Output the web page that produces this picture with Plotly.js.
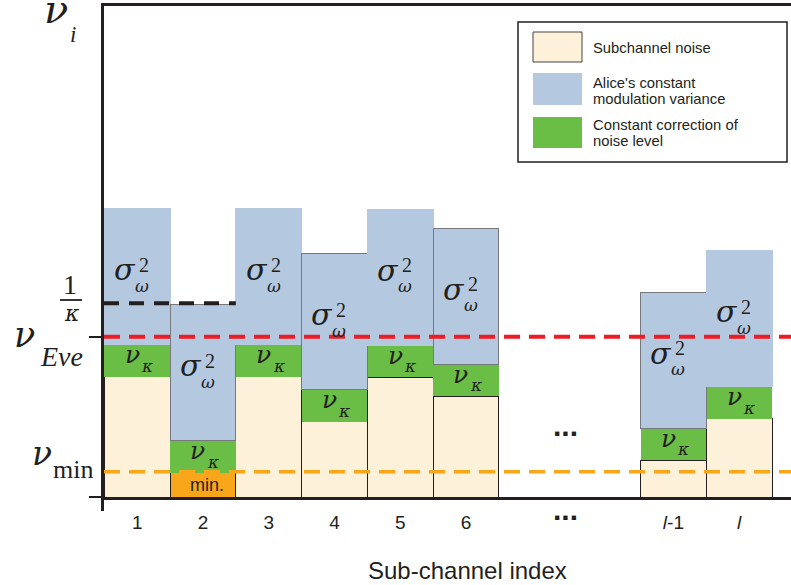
<!DOCTYPE html>
<html><head><meta charset="utf-8">
<script src="https://cdn.plot.ly/plotly-3.0.1.min.js"></script>
<style>html,body{margin:0;padding:0;background:#fff}#chart{width:791px;height:585px}</style>
</head><body><div id="chart"></div>
<script>
// ---------------- data ----------------
const subChannels = [1, 2, 3, 4, 5, 6, 9.155, 10.155];
const subChannelLabels = ['1', '2', '3', '4', '5', '6', '<i>l</i>-1', '<i>l</i>'];
const ellipsisPos = 7.52;
const ellipsisLabel = '...';
const subchannelNoise = [12.03, 2.43, 12.03, 7.53, 11.97, 10.10, 3.70, 7.83];
const noiseCorrection = [3.2, 3.2, 3.2, 3.2, 3.2, 3.2, 3.2, 3.2];
const modulationVariance = [13.6, 13.6, 13.6, 13.6, 13.6, 13.6, 13.6, 13.6];
const minIndex = 1;
const invKappa = 19.37;
const nuEve = 16.03;
const nuMin = 2.53;
const seriesNames = ['Subchannel noise', "Alice's constant modulation variance", 'Constant correction of noise level'];
const xTitle = 'Sub-channel index';

// ---------------- style ----------------
const ink = '#231F20';
const serif = 'Liberation Serif, Times New Roman, serif';
const greek = 'DejaVu Serif, Liberation Serif, serif';
const sans = 'Liberation Sans, Arial, Helvetica, sans-serif';
const cNoise = '#FDF1DA', cMin = '#F9A61B', cBlue = '#B4C8E0', cGreen = '#6ABD45';
const cRed = '#ED1C24', cOrange = '#FAA61A';
const M = {l: 104, r: 0, t: 6, b: 88};
const W = 791 - M.l - M.r, H = 585 - M.t - M.b;
const PX = p => (p - M.l) / W;
const PY = p => (M.t + H - p) / H;

const noiseColors = subchannelNoise.map((v, i) => i === minIndex ? cMin : cNoise);
const darkEdged = [1, 3, 5, 6];
const blueLine = subChannels.map((v, i) => darkEdged.includes(i) ? '#77787b' : cBlue);

const traces = [
  {type: 'bar', name: seriesNames[0], x: subChannels, y: subchannelNoise, width: 1,
   marker: {color: noiseColors, line: {color: ink, width: 1}}, hoverinfo: 'skip'},
  {type: 'bar', name: seriesNames[2], x: subChannels, y: noiseCorrection, width: 1,
   marker: {color: cGreen, line: {color: cGreen, width: 0}}, hoverinfo: 'skip'},
  {type: 'bar', name: seriesNames[1], x: subChannels, y: modulationVariance, width: 1,
   marker: {color: cBlue, line: {color: blueLine, width: 1}}, hoverinfo: 'skip'}
];

const ann = [];
function A(o) { ann.push(Object.assign({showarrow: false, xanchor: 'center', yanchor: 'middle'}, o)); }

// labels inside bars
subChannels.forEach((x, i) => {
  const yBlue = subchannelNoise[i] + noiseCorrection[i] + modulationVariance[i] / 2;
  const yGreen = subchannelNoise[i] + noiseCorrection[i] / 2;
  A({x: x, y: yBlue, xref: 'x', yref: 'y', text: '<i>σ</i>', font: {family: greek, size: 30, color: ink}, xshift: -12, yshift: 7});
  A({x: x, y: yBlue, xref: 'x', yref: 'y', text: '2', font: {family: serif, size: 20, color: ink}, xshift: 7, yshift: 12});
  A({x: x, y: yBlue, xref: 'x', yref: 'y', text: '<i>ω</i>', font: {family: greek, size: 17, color: ink}, xshift: 5, yshift: -9});
  A({x: x, y: yGreen, xref: 'x', yref: 'y', text: '<i>ν</i>', font: {family: greek, size: 25, color: ink}, xshift: -5, yshift: 6});
  A({x: x, y: yGreen, xref: 'x', yref: 'y', text: '<i>κ</i>', font: {family: greek, size: 17, color: ink}, xshift: 10, yshift: -5});
});
A({x: subChannels[minIndex], y: subchannelNoise[minIndex] / 2, xref: 'x', yref: 'y', text: 'min.', font: {family: sans, size: 18, color: ink}, xshift: 4});
A({x: ellipsisPos, y: PY(425), xref: 'x', yref: 'paper', text: '<b>...</b>', font: {family: sans, size: 30, color: ink}});
A({x: ellipsisPos, y: PY(509), xref: 'x', yref: 'paper', text: '<b>' + ellipsisLabel + '</b>', font: {family: sans, size: 30, color: ink}});

// x-axis title (placed as in the reference, slightly right of centre)
A({x: PX(467), y: PY(570), xref: 'paper', yref: 'paper', text: xTitle, font: {family: sans, size: 24, color: ink}});

// left-side level labels
A({x: PX(55.5), y: PY(8.5), xref: 'paper', yref: 'paper', text: '<i>ν</i>', font: {family: greek, size: 40, color: ink}});
A({x: PX(73), y: PY(34), xref: 'paper', yref: 'paper', text: '<i>i</i>', font: {family: serif, size: 23, color: ink}});
A({x: PX(69.5), y: PY(284), xref: 'paper', yref: 'paper', text: '1', font: {family: serif, size: 28, color: ink}});
A({x: PX(71.5), y: PY(313), xref: 'paper', yref: 'paper', text: '<i>κ</i>', font: {family: greek, size: 22, color: ink}});
A({x: PX(24), y: PY(335), xref: 'paper', yref: 'paper', text: '<i>ν</i>', font: {family: greek, size: 35, color: ink}});
A({x: PX(61.5), y: PY(356), xref: 'paper', yref: 'paper', text: '<i>Eve</i>', font: {family: serif, size: 28, color: ink}});
A({x: PX(42), y: PY(453), xref: 'paper', yref: 'paper', text: '<i>ν</i>', font: {family: greek, size: 33, color: ink}});
A({x: PX(73), y: PY(469.5), xref: 'paper', yref: 'paper', text: 'min', font: {family: serif, size: 26, color: ink}});

// custom legend text
const legendLines = [
  ['Subchannel noise', 48],
  ["Alice's constant", 83],
  ['modulation variance', 99],
  ['Constant correction of', 125],
  ['noise level', 141]
];
legendLines.forEach(([t, yy]) => A({x: PX(591), y: PY(yy), xref: 'paper', yref: 'paper', xanchor: 'left', text: t, font: {family: sans, size: 14.8, color: ink}}));

const shapes = [
  {type: 'line', xref: 'paper', yref: 'y', x0: 0, x1: 1, y0: nuEve, y1: nuEve, line: {color: cRed, width: 4, dash: '16px,9px'}},
  {type: 'line', xref: 'paper', yref: 'y', x0: 0, x1: 1, y0: nuMin, y1: nuMin, line: {color: cOrange, width: 3.5, dash: '16px,9px'}},
  {type: 'line', xref: 'x', yref: 'y', x0: 0.495, x1: subChannels[1] + 0.5, y0: invKappa, y1: invKappa, line: {color: ink, width: 4, dash: '15px,10px'}},
  {type: 'line', xref: 'paper', yref: 'paper', x0: PX(60), x1: PX(82), y0: PY(300), y1: PY(300), line: {color: ink, width: 1.8}},
  {type: 'line', xref: 'paper', yref: 'paper', x0: PX(102.5), x1: PX(102.5), y0: PY(497), y1: PY(511), line: {color: ink, width: 3}},
  {type: 'rect', xref: 'paper', yref: 'paper', x0: PX(518), x1: PX(787), y0: PY(162), y1: PY(22), line: {color: ink, width: 1.5}, fillcolor: 'rgba(0,0,0,0)'},
  {type: 'rect', xref: 'paper', yref: 'paper', x0: PX(533), x1: PX(582), y0: PY(62), y1: PY(32), line: {color: '#444', width: 1}, fillcolor: cNoise},
  {type: 'rect', xref: 'paper', yref: 'paper', x0: PX(533), x1: PX(582), y0: PY(105), y1: PY(73), line: {width: 0}, fillcolor: cBlue},
  {type: 'rect', xref: 'paper', yref: 'paper', x0: PX(533), x1: PX(582), y0: PY(148), y1: PY(117), line: {width: 0}, fillcolor: cGreen}
];

const layout = {
  width: 791, height: 585, margin: M, paper_bgcolor: '#fff', plot_bgcolor: '#fff',
  barmode: 'stack', bargap: 0, showlegend: false,
  xaxis: {
    range: [0.495, 0.495 + W / 65.75], showgrid: false, zeroline: false,
    showline: true, linewidth: 3, linecolor: ink, mirror: true,
    tickmode: 'array', tickvals: subChannels, ticktext: subChannelLabels,
    ticks: 'outside', ticklen: 6, tickcolor: 'rgba(0,0,0,0)',
    tickfont: {family: sans, size: 19, color: ink}
  },
  yaxis: {
    range: [0, H / 10], showgrid: false, zeroline: false,
    showline: true, linewidth: 3, linecolor: ink,
    tickmode: 'array', tickvals: [0, nuEve], ticks: 'outside', ticklen: 12, tickwidth: 2, tickcolor: ink,
    showticklabels: false
  },
  shapes: shapes, annotations: ann
};
Plotly.newPlot('chart', traces, layout, {displayModeBar: false, staticPlot: true});
</script></body></html>
